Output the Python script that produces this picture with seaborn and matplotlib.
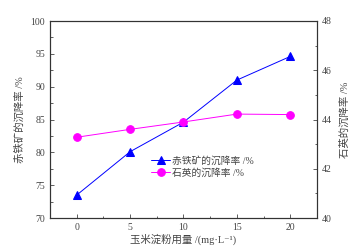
import matplotlib
matplotlib.use("Agg")
import matplotlib.pyplot as plt
import pandas as pd
import seaborn as sns
from matplotlib.ticker import MultipleLocator

dosage = [0, 5, 10, 15, 20]
hematite_rate = [73.5, 80.1, 84.6, 91.0, 94.6]
quartz_rate = [43.28, 43.6, 43.9, 44.22, 44.2]

sns.set_theme(style="ticks")
plt.rcParams["font.family"] = ["Liberation Serif", "Noto Sans CJK SC", "DejaVu Serif"]
text_color = "#444444"

df = pd.DataFrame({"dosage": dosage, "hematite": hematite_rate, "quartz": quartz_rate})

fig = plt.figure(figsize=(3.63, 2.5), dpi=100)
ax = fig.add_axes([0.138, 0.128, 0.735, 0.788])
ax2 = ax.twinx()

sns.lineplot(data=df, x="dosage", y="hematite", ax=ax, color="blue", marker="^",
             markersize=5.5, linewidth=0.7, markeredgecolor="blue", legend=False)
sns.lineplot(data=df, x="dosage", y="quartz", ax=ax2, color="magenta", marker="o",
             markersize=5.5, linewidth=0.7, markeredgecolor="magenta", legend=False)

ax.set_xlim(-2.5, 22.5)
ax.set_ylim(70, 100)
ax2.set_ylim(40, 48)
ax.xaxis.set_major_locator(MultipleLocator(5))
ax.xaxis.set_minor_locator(MultipleLocator(2.5))
ax.yaxis.set_major_locator(MultipleLocator(5))
ax.yaxis.set_minor_locator(MultipleLocator(2.5))
ax2.yaxis.set_major_locator(MultipleLocator(2))
ax2.yaxis.set_minor_locator(MultipleLocator(1))

for a in (ax, ax2):
    a.tick_params(which="both", direction="in", labelsize=7, colors=text_color, width=0.6)
    a.tick_params(which="major", length=3)
    a.tick_params(which="minor", length=1.8)
    for s in a.spines.values():
        s.set_linewidth(0.8)
        s.set_color("#333333")
ax.tick_params(axis="x", top=False)
ax.tick_params(axis="y", right=False)

ax.set_xlabel("玉米淀粉用量 /(mg·L⁻¹)", fontsize=7.5, color=text_color, labelpad=1)
ax.set_ylabel("赤铁矿的沉降率 /%", fontsize=7.5, color=text_color, labelpad=4)
ax2.set_ylabel("石英的沉降率 /%", fontsize=7.5, color=text_color, labelpad=6)

handles = ax.get_lines()[:1] + ax2.get_lines()[:1]
labels = ["赤铁矿的沉降率 /%", "石英的沉降率 /%"]
leg = ax.legend(handles, labels, loc="lower left", bbox_to_anchor=(0.36, 0.18), frameon=False,
                fontsize=7, handlelength=2.0, handletextpad=0.2, labelspacing=0.25, borderpad=0)
for t in leg.get_texts():
    t.set_color(text_color)

fig.savefig("out.png", dpi=100)
